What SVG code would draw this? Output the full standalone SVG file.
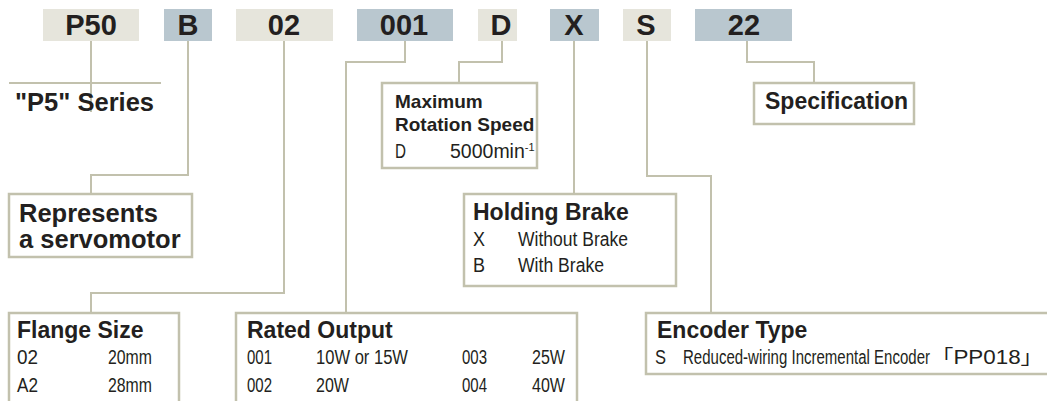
<svg xmlns="http://www.w3.org/2000/svg" width="1047" height="401" viewBox="0 0 1047 401">
<style>
.bg{fill:#ffffff}
.cb{fill:#e6e5dc}
.cg{fill:#b9c7cf}
.code{font-family:"Liberation Sans",Arial,sans-serif;font-weight:bold;font-size:29px;fill:#231f20;text-anchor:middle}
.box{fill:#ffffff;stroke:#c2c1ad;stroke-width:2.5}
.ln{fill:none;stroke:#c2c1ad;stroke-width:2}
.tl{font-family:"Liberation Sans",Arial,sans-serif;font-weight:bold;font-size:25.5px;fill:#231f20}
.t{font-family:"Liberation Sans",Arial,sans-serif;font-weight:bold;font-size:23px;fill:#231f20}
.ts{font-family:"Liberation Sans",Arial,sans-serif;font-weight:bold;font-size:19px;fill:#231f20}
.b{font-family:"Liberation Sans",Arial,"Noto Sans CJK JP",sans-serif;font-size:19.5px;fill:#231f20}
</style>
<rect class="bg" x="0" y="0" width="1047" height="401"/>
<g id="connectors">
<polyline class="ln" points="91,40 91,112"/>
<line class="ln" x1="9" y1="83" x2="161" y2="83"/>
<polyline class="ln" points="188,40 188,175 91,175 91,194"/>
<polyline class="ln" points="284,40 284,293 91,293 91,313"/>
<polyline class="ln" points="405,40 405,62 346,62 346,313"/>
<polyline class="ln" points="502,40 502,62 459,62 459,83"/>
<polyline class="ln" points="574,40 574,194"/>
<polyline class="ln" points="647,40 647,176 711,176 711,313"/>
<polyline class="ln" points="747,40 747,62 814,62 814,83"/>
</g>
<g id="code-P50"><rect class="cb" x="43" y="9" width="96" height="32"/><text class="code" x="91" y="34.5">P50</text></g>
<g id="code-B"><rect class="cg" x="164" y="9" width="48" height="32"/><text class="code" x="188" y="34.5">B</text></g>
<g id="code-02"><rect class="cb" x="236" y="9" width="97" height="32"/><text class="code" x="284" y="34.5">02</text></g>
<g id="code-001"><rect class="cg" x="357" y="9" width="96" height="32"/><text class="code" x="404" y="34.5">001</text></g>
<g id="code-D"><rect class="cb" x="478" y="9" width="39" height="32"/><text class="code" x="501" y="34.5">D</text></g>
<g id="code-X"><rect class="cg" x="550" y="9" width="49" height="32"/><text class="code" x="574" y="34.5">X</text></g>
<g id="code-S"><rect class="cb" x="623" y="9" width="48" height="32"/><text class="code" x="646" y="34.5">S</text></g>
<g id="code-22"><rect class="cg" x="695" y="9" width="97" height="32"/><text class="code" x="744" y="34.5">22</text></g>

<g id="series"><text class="tl" x="15" y="111">"P5" Series</text></g>

<g id="servomotor"><rect class="box" x="9" y="194" width="183" height="63"/>
<text class="tl" x="19" y="222">Represents</text><text class="tl" x="19" y="248">a servomotor</text></g>

<g id="flange"><rect class="box" x="9" y="313" width="170" height="100"/>
<text class="t" x="17" y="338">Flange Size</text>
<text class="b" x="17" y="364" textLength="21" lengthAdjust="spacingAndGlyphs">02</text><text class="b" x="108" y="364" textLength="44" lengthAdjust="spacingAndGlyphs">20mm</text>
<text class="b" x="17" y="392" textLength="21" lengthAdjust="spacingAndGlyphs">A2</text><text class="b" x="108" y="392" textLength="44" lengthAdjust="spacingAndGlyphs">28mm</text></g>

<g id="rated"><rect class="box" x="236" y="313" width="341" height="100"/>
<text class="t" x="247" y="338">Rated Output</text>
<text class="b" x="247" y="364" textLength="25" lengthAdjust="spacingAndGlyphs">001</text><text class="b" x="316" y="364" textLength="92" lengthAdjust="spacingAndGlyphs">10W or 15W</text>
<text class="b" x="462" y="364" textLength="25" lengthAdjust="spacingAndGlyphs">003</text><text class="b" x="532" y="364" textLength="33" lengthAdjust="spacingAndGlyphs">25W</text>
<text class="b" x="247" y="392" textLength="25" lengthAdjust="spacingAndGlyphs">002</text><text class="b" x="316" y="392" textLength="33" lengthAdjust="spacingAndGlyphs">20W</text>
<text class="b" x="462" y="392" textLength="25" lengthAdjust="spacingAndGlyphs">004</text><text class="b" x="532" y="392" textLength="33" lengthAdjust="spacingAndGlyphs">40W</text></g>

<g id="speed"><rect class="box" x="382" y="83" width="155" height="85"/>
<text class="ts" x="395" y="108">Maximum</text><text class="ts" x="395" y="131">Rotation Speed</text>
<text class="b" x="395" y="158" textLength="11" lengthAdjust="spacingAndGlyphs">D</text><text class="b" x="450" y="158" font-size="18.3">5000min<tspan font-size="11" dy="-7">-1</tspan></text></g>

<g id="brake"><rect class="box" x="464" y="194" width="212" height="92"/>
<text class="t" x="473" y="220">Holding Brake</text>
<text class="b" x="473" y="246" textLength="12" lengthAdjust="spacingAndGlyphs">X</text><text class="b" x="518" y="246" textLength="110" lengthAdjust="spacingAndGlyphs">Without Brake</text>
<text class="b" x="473" y="272" textLength="12" lengthAdjust="spacingAndGlyphs">B</text><text class="b" x="518" y="272" textLength="86" lengthAdjust="spacingAndGlyphs">With Brake</text></g>

<g id="spec"><rect class="box" x="754" y="83" width="160" height="41"/>
<text class="t" x="765" y="109">Specification</text></g>

<g id="encoder"><rect class="box" x="646" y="313" width="410" height="61"/>
<text class="t" x="657" y="338">Encoder Type</text>
<text class="b" x="655" y="364" textLength="11" lengthAdjust="spacingAndGlyphs">S</text><text class="b" y="364"><tspan x="683" textLength="247" lengthAdjust="spacingAndGlyphs">Reduced-wiring Incremental Encoder</tspan><tspan x="931" textLength="112" lengthAdjust="spacingAndGlyphs">「PP018」</tspan></text></g>
</svg>
